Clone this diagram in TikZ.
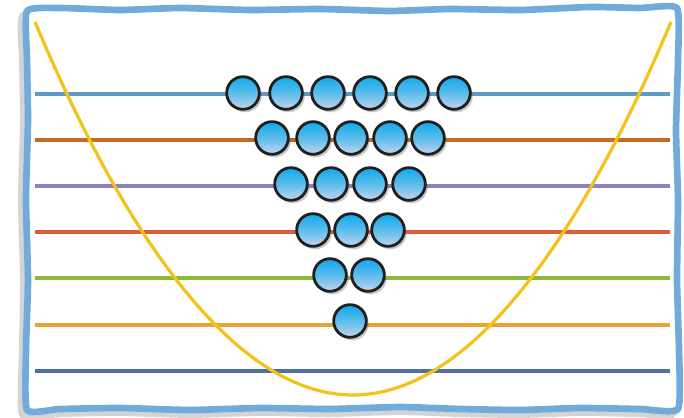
\documentclass[tikz,border=0pt]{standalone}
\usetikzlibrary{shadows}
\definecolor{framec}{HTML}{72AADA}
\definecolor{l1}{HTML}{5E9AC6}
\definecolor{l2}{HTML}{C66A22}
\definecolor{l3}{HTML}{8E80C2}
\definecolor{l4}{HTML}{DA5E3E}
\definecolor{l5}{HTML}{8DB838}
\definecolor{l6}{HTML}{E9A233}
\definecolor{l7}{HTML}{4F6FA8}
\definecolor{para}{HTML}{F4C21A}
\definecolor{balltop}{HTML}{0EA9EC}
\definecolor{ballmid}{HTML}{5CBDEB}
\definecolor{ballbot}{HTML}{C3D3EE}
\tikzset{
  ball/.style={circle, draw=black!88, line width=2.1pt, minimum size=24.5pt, inner sep=0pt,
    top color=balltop, bottom color=ballbot, middle color=ballmid,
    drop shadow={shadow xshift=1.8pt, shadow yshift=-2.2pt, opacity=0.3, fill=black!70}},
  hline/.style={line width=2.3pt},
  framepath/.style={line width=5pt, line join=round}
}
\begin{document}
\begin{tikzpicture}[x=0.75pt,y=-0.75pt]
\useasboundingbox (0,0) rectangle (684,417);
\fill[white] (0,0) rectangle (684,417);
% frame shadow
\draw[framepath, black!55, opacity=0.3, line width=6pt]
  plot[smooth cycle, tension=0.3] coordinates {
  (23,16) (60,13) (120,15) (180,13) (250,15) (320,14) (390,16) (450,14) (520,15) (590,12) (640,13) (672,13)
  (673,60) (671,130) (673,200) (672,280) (674,350) (673,413)
  (640,413) (580,412) (520,414) (460,413) (400,411) (330,413) (260,412) (190,414) (120,412) (60,413) (23,415)
  (23,350) (24,280) (22,200) (24,120) (23,60)};
\fill[white]
  plot[smooth cycle, tension=0.3] coordinates {
  (27,11) (60,8) (120,10) (180,8) (250,10) (320,9) (390,11) (450,9) (520,10) (590,7) (640,8) (677,8)
  (678,60) (676,130) (678,200) (677,280) (679,350) (678,409)
  (640,409) (580,408) (520,410) (460,409) (400,407) (330,409) (260,408) (190,410) (120,408) (60,409) (27,410)
  (26,350) (28,280) (26,200) (28,120) (27,60)};
% horizontal lines
\draw[hline, l1] (35,94) -- (670,94);
\draw[hline, l2] (35,140) -- (670,140);
\draw[hline, l3] (35,186) -- (670,186);
\draw[hline, l4] (35,232) -- (670,232);
\draw[hline, l5] (35,278) -- (670,278);
\draw[hline, l6] (35,325) -- (670,325);
\draw[hline, l7] (35,371) -- (670,371);
% parabola
\draw[para, line width=2.4pt] (35,22) parabola bend (353,395) (671,22);
% balls
\node[ball] (b11) at (243,93) {};
\node[ball] (b12) at (286,93) {};
\node[ball] (b13) at (328,93) {};
\node[ball] (b14) at (370,93) {};
\node[ball] (b15) at (412,93) {};
\node[ball] (b16) at (454,93) {};
\node[ball] (b21) at (272,138) {};
\node[ball] (b22) at (313,138) {};
\node[ball] (b23) at (351,138) {};
\node[ball] (b24) at (390,138) {};
\node[ball] (b25) at (428,138) {};
\node[ball] (b31) at (291,184) {};
\node[ball] (b32) at (331,184) {};
\node[ball] (b33) at (370,184) {};
\node[ball] (b34) at (409,184) {};
\node[ball] (b41) at (313,230) {};
\node[ball] (b42) at (351,230) {};
\node[ball] (b43) at (388,230) {};
\node[ball] (b51) at (330,275) {};
\node[ball] (b52) at (368,275) {};
\node[ball] (b61) at (350,321) {};
% frame
\draw[framepath, framec]
  plot[smooth cycle, tension=0.3] coordinates {
  (27,11) (60,8) (120,10) (180,8) (250,10) (320,9) (390,11) (450,9) (520,10) (590,7) (640,8) (677,8)
  (678,60) (676,130) (678,200) (677,280) (679,350) (678,409)
  (640,409) (580,408) (520,410) (460,409) (400,407) (330,409) (260,408) (190,410) (120,408) (60,409) (27,410)
  (26,350) (28,280) (26,200) (28,120) (27,60)};
\end{tikzpicture}
\end{document}
